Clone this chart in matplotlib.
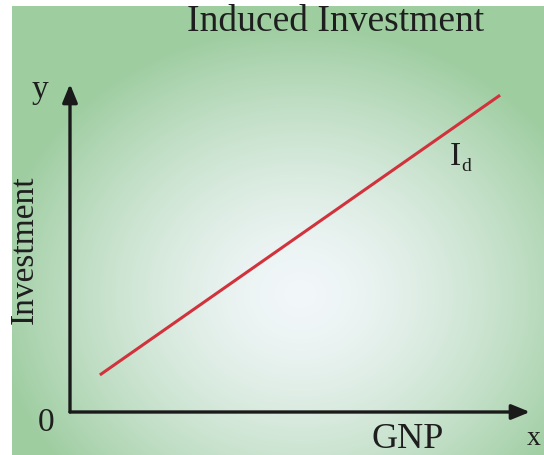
import numpy as np
import matplotlib
matplotlib.use("Agg")
import matplotlib.pyplot as plt

# data
gnp = [0.65, 9.35]
investment = [1.13, 9.66]
title = "Induced Investment"
xlabel = "GNP"
ylabel = "Investment"
line_label = "I"
line_sub = "d"

W, H = 544, 456
fig = plt.figure(figsize=(W / 100, H / 100), dpi=100)
fig.patch.set_facecolor("white")

# background radial gradient
bg = fig.add_axes([12 / W, 0, (W - 12) / W, (H - 7) / H])
bg.set_axis_off()
nx, ny = 532, 449
xx, yy = np.meshgrid(np.arange(nx) + 12, np.arange(ny) + 7)
cx, cy = 300, 295
r = np.sqrt(((xx - cx) / 310) ** 2 + ((yy - cy) / 270) ** 2)
t = np.clip(r, 0, 1) ** 1.5
c0 = np.array([242, 247, 250]) / 255
c1 = np.array([158, 205, 160]) / 255
img = c0[None, None, :] * (1 - t[..., None]) + c1[None, None, :] * t[..., None]
bg.imshow(img, aspect="auto", extent=[0, 1, 0, 1], origin="upper")
bg.set_xlim(0, 1)
bg.set_ylim(0, 1)

serif = ["Liberation Serif", "DejaVu Serif"]

# main axes: origin at pixel (70, 413), x tip at 530, y tip at 85
ax = fig.add_axes([70 / W, (H - 413) / H, 460 / W, 328 / H])
ax.set_xlim(0, 10)
ax.set_ylim(0, 10)
ax.set_axis_off()
ax.patch.set_alpha(0)

arrow_kw = dict(arrowstyle="-|>,head_length=1.1,head_width=0.45", color="#1a1a1a",
                lw=2.4, shrinkA=0, shrinkB=0)
ax.annotate("", xy=(10, 0), xytext=(0, 0), arrowprops=arrow_kw, annotation_clip=False)
ax.annotate("", xy=(0, 10), xytext=(0, 0), arrowprops=arrow_kw, annotation_clip=False)

ax.plot(gnp, investment, color="#d1323c", lw=2.2, solid_capstyle="butt", clip_on=False)

# texts (figure pixel positions)
def ftxt(x, y, s, **kw):
    fig.text(x / W, 1 - y / H, s, family=serif, color="#1e1e1e", **kw)

ftxt(336, 22, title, fontsize=27, ha="center", va="center")
ftxt(25, 250, ylabel, fontsize=24, ha="center", va="center", rotation=90)
ftxt(408, 440, xlabel, fontsize=26, ha="center", va="center")
ftxt(46, 423, "0", fontsize=24, ha="center", va="center")
ftxt(40, 90, "y", fontsize=24, ha="center", va="center")
ftxt(534, 439, "x", fontsize=20, ha="center", va="center")
ftxt(455, 157, line_label, fontsize=24, ha="center", va="center")
ftxt(466, 167, line_sub, fontsize=14, ha="center", va="center")

fig.savefig("out.png", dpi=100)
